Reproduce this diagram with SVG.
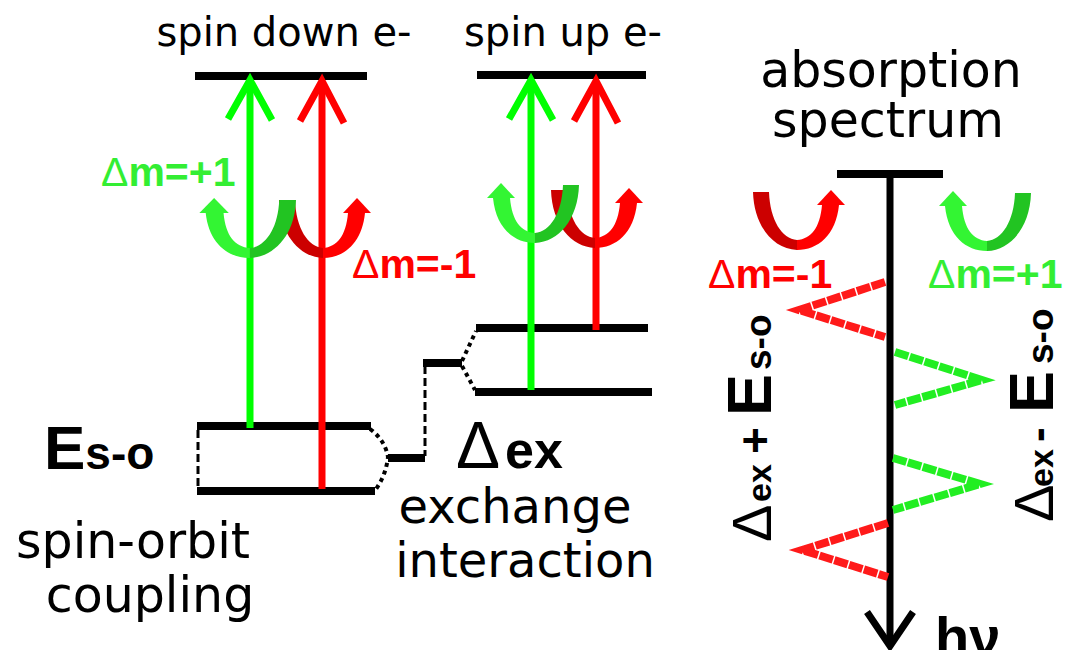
<svg xmlns="http://www.w3.org/2000/svg" xmlns:xlink="http://www.w3.org/1999/xlink" width="1069" height="650" viewBox="0 0 1069 650">
<style>
.t{font-family:"DejaVu Sans",sans-serif;fill:#000}
.b{font-family:"Liberation Sans",Arial,sans-serif;font-weight:bold}
.n{font-family:"Liberation Sans",Arial,sans-serif;font-weight:normal}
.lvl{stroke:#000;stroke-width:8;fill:none}
.dash{stroke:#000;stroke-width:3;stroke-dasharray:8 4;fill:none}
.dot{stroke:#000;stroke-width:4;stroke-dasharray:4 4;fill:none}
.ga{stroke:#00ff00;stroke-width:7;fill:none}
.ra{stroke:#ff0000;stroke-width:7;fill:none}
.zr{stroke:#ff1a1a;stroke-width:8;stroke-dasharray:14 1.5;fill:none}
.zg{stroke:#22ee22;stroke-width:8;stroke-dasharray:14 1.5;fill:none}
.gt{fill:#33ee33}
.rt{fill:#ff0000}
</style>
<defs>
<g id="uRed">
<path d="M0,0 L16,0 C17,28 29,47 44,48 L44,58 C20,57 1,34 0,0 Z" fill="#cc0000"/>
<path d="M44,48 C58,47 67,36 69,13 L86,13 C83,43 65,58 44,58 Z" fill="#ff0000"/>
<path d="M64,13 L78,-2 L92,13 Z" fill="#ff0000"/>
</g>
<g id="uGreen">
<path d="M0,0 L16,0 C17,28 29,47 44,48 L44,58 C20,57 1,34 0,0 Z" fill="#22c422"/>
<path d="M44,48 C58,47 67,36 69,13 L86,13 C83,43 65,58 44,58 Z" fill="#33f533"/>
<path d="M64,13 L78,-2 L92,13 Z" fill="#33f533"/>
</g>
</defs>
<rect width="1069" height="650" fill="#fff"/>

<g id="levels">
<line class="lvl" x1="195" y1="76" x2="367" y2="76"/>
<line class="lvl" x1="477" y1="75" x2="646" y2="75"/>
<line class="lvl" x1="476" y1="328" x2="648" y2="328"/>
<line class="lvl" x1="475" y1="392" x2="652" y2="392"/>
<line class="lvl" x1="197" y1="426" x2="371" y2="426"/>
<line class="lvl" x1="197" y1="491" x2="375" y2="491"/>
<line class="lvl" x1="388" y1="458" x2="425" y2="458" stroke-width="7"/>
<line class="lvl" x1="423" y1="363" x2="462" y2="363" stroke-width="7"/>
</g>

<g id="connectors">
<line class="dash" x1="198" y1="430" x2="198" y2="488"/>
<line class="dash" x1="425" y1="366" x2="425" y2="456"/>
<path class="dot" d="M370,429 Q385,440 388,457 Q386,475 376,489"/>
<path class="dot" d="M462,361 L476,331"/>
<path class="dot" d="M462,366 L475,390"/>
</g>

<g id="transitions">
<line class="ga" x1="250" y1="428" x2="250" y2="80"/>
<polyline class="ga" points="228,119 250,80 272,120"/>
<line class="ra" x1="322" y1="489" x2="322" y2="81"/>
<polyline class="ra" points="300,121 322,81 344,123"/>
<line class="ga" x1="531" y1="390" x2="531" y2="80"/>
<polyline class="ga" points="509,119 531,80 553,120"/>
<line class="ra" x1="596" y1="330" x2="596" y2="81"/>
<polyline class="ra" points="574,121 596,81 618,123"/>
</g>

<g id="polarisation-arrows">
<use xlink:href="#uRed" transform="translate(279,200)"/>
<use xlink:href="#uGreen" transform="translate(296,200) scale(-1.05,1)"/>
<use xlink:href="#uRed" transform="translate(551,190)"/>
<use xlink:href="#uGreen" transform="translate(579,185) scale(-1,1)"/>
<use xlink:href="#uRed" transform="translate(753,192)"/>
<use xlink:href="#uGreen" transform="translate(1031,193) scale(-1,1)"/>
</g>

<g id="spectrum">
<line class="lvl" x1="837" y1="174" x2="943" y2="174"/>
<line x1="890" y1="174" x2="890" y2="646" stroke="#000" stroke-width="7"/>
<polyline points="867,612 890,646 913,612" fill="none" stroke="#000" stroke-width="7"/>
<polyline class="zr" points="885,282 799,310 885,337"/>
<polyline class="zg" points="895,352 982,380 895,405"/>
<polyline class="zg" points="893,458 980,484 893,510"/>
<polyline class="zr" points="888,523 802,550 888,577"/>
</g>

<g id="labels">
<text class="t" x="284" y="46" font-size="40" text-anchor="middle">spin down e-</text>
<text class="t" x="563" y="46" font-size="40" text-anchor="middle">spin up e-</text>
<text class="t" x="891" y="87" font-size="49" text-anchor="middle">absorption</text>
<text class="t" x="888" y="137" font-size="49" text-anchor="middle">spectrum</text>
<text class="t" x="515" y="523" font-size="48" text-anchor="middle">exchange</text>
<text class="t" x="525" y="577" font-size="48" text-anchor="middle">interaction</text>
<text class="t" x="133" y="558" font-size="49" text-anchor="middle">spin-orbit</text>
<text class="t" x="150" y="612" font-size="49" text-anchor="middle">coupling</text>

<text class="b" x="44" y="469"><tspan font-size="62">E</tspan><tspan font-size="46">s-o</tspan></text>
<text class="b" y="468"><tspan class="n" x="456" font-size="66">Δ</tspan><tspan x="505" font-size="52">ex</tspan></text>

<text class="b gt" x="101" y="186" font-size="41"><tspan class="n">Δ</tspan>m=+1</text>
<text class="b rt" x="352" y="278" font-size="41"><tspan class="n">Δ</tspan>m=-1</text>
<text class="b rt" x="708" y="288" font-size="41"><tspan class="n">Δ</tspan>m=-1</text>
<text class="b gt" x="928" y="288" font-size="41"><tspan class="n">Δ</tspan>m=+1</text>

<text class="b" transform="translate(771,542) rotate(-90)"><tspan class="n" x="0" font-size="56">Δ</tspan><tspan x="40" font-size="34">ex</tspan><tspan x="88" font-size="46">+</tspan><tspan x="126" font-size="63">E</tspan><tspan x="172" font-size="37">s-o</tspan></text>
<text class="b" transform="translate(1053,522) rotate(-90)"><tspan class="n" x="0" font-size="56">Δ</tspan><tspan x="35" font-size="34">ex</tspan><tspan x="80" font-size="44">-</tspan><tspan x="109" font-size="63">E</tspan><tspan x="158" font-size="37">s-o</tspan></text>

<text class="b" x="935" y="656" font-size="56">hν</text>
</g>
</svg>
